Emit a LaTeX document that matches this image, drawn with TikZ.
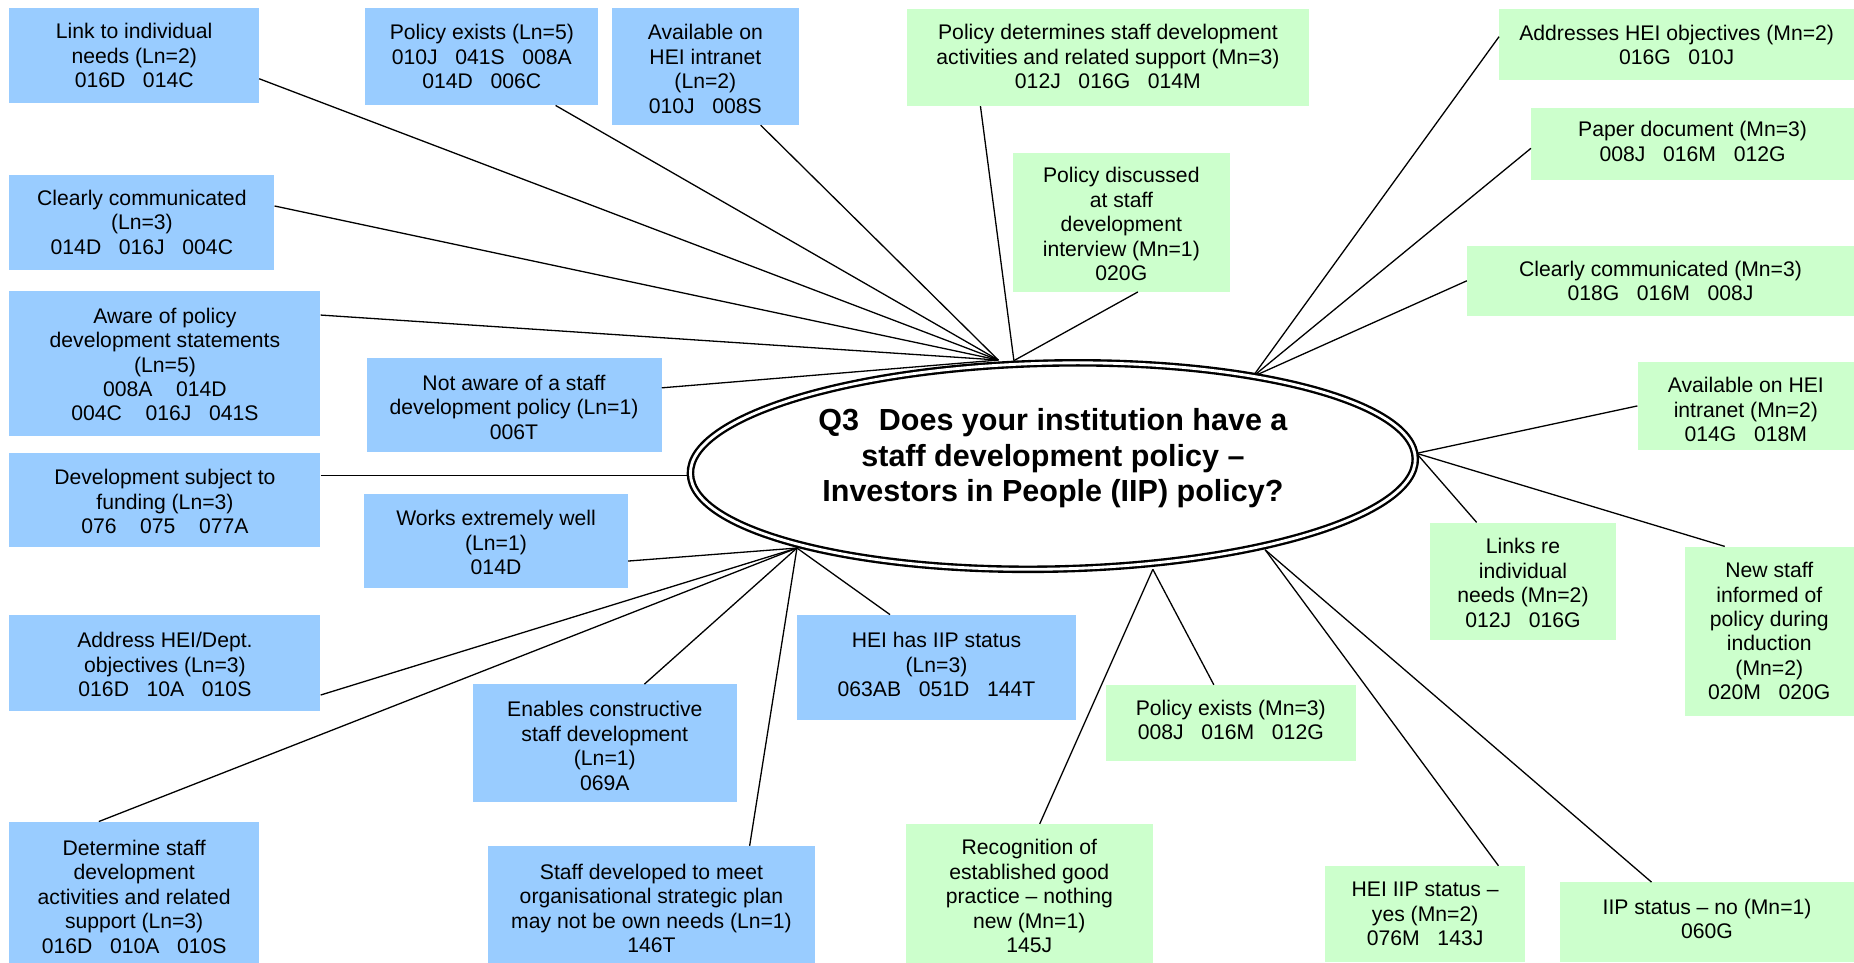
\documentclass[tikz,border=0pt]{standalone}
\usepackage{fontspec}
\setmainfont{Liberation Sans}
\definecolor{lnblue}{HTML}{99CCFF}
\definecolor{mngreen}{HTML}{CCFFCC}
% box from its corners: [text drop], name, style, x1, y1, x2, y2, text
\newcommand\cornerbox[8][0]{%
  \node[#3, minimum width={(#6-#4)*1pt}, minimum height={(#7-#5)*1pt}]
    (#2) at ({(#4+#6)/2},{(#5+#7)/2}) {};
  \node[boxtext] (#2t) at ([shift={(0,#1)}]#2.center) {#8};}
\begin{document}
\begin{tikzpicture}[x=1pt,y=-1pt,
  boxtext/.style={inner sep=0pt, align=center, font=\fontsize{17.9}{20.7}\selectfont},
  lbox/.style={inner sep=0pt, fill=lnblue},
  mbox/.style={inner sep=0pt, fill=mngreen},
  link/.style={draw=black, line width=1.1pt},
  hubring/.style={draw=black, line width=2pt, double=white, double distance=2.4pt},
  title/.style={inner sep=0pt, align=center, font=\fontsize{25.8}{30}\selectfont\bfseries},
]
\useasboundingbox (0,0) rectangle (1568,814);

% Ln answers (blue)
\cornerbox{L1}{lbox}{8}{7}{219}{87}{Link to individual\\needs (Ln=2)\\016D~~~014C}
\cornerbox{L2}{lbox}{309}{7}{506}{89}{Policy exists (Ln=5)\\010J~~~041S~~~008A\\014D~~~006C}
\cornerbox[2]{L3}{lbox}{517.6}{7}{675.5}{105.7}{Available on\\HEI intranet\\(Ln=2)\\010J~~~008S}
\cornerbox{L4}{lbox}{8}{148}{232}{228}{Clearly communicated\\(Ln=3)\\014D~~~016J~~~004C}
\cornerbox[1]{L5}{lbox}{8}{246}{271}{368.5}{Aware of policy\\development statements\\(Ln=5)\\008A~~~~014D\\004C~~~~016J~~~041S}
\cornerbox[1.5]{L6}{lbox}{310}{303}{559.5}{382.6}{Not aware of a staff\\development policy (Ln=1)\\006T}
\cornerbox[1]{L7}{lbox}{8}{383.4}{271}{463}{Development subject to\\funding (Ln=3)\\076~~~~075~~~~077A}
\cornerbox[1]{L8}{lbox}{308}{418}{531}{497.6}{Works extremely well\\(Ln=1)\\014D}
\cornerbox[1.5]{L9}{lbox}{8}{520}{271}{601}{Address HEI/Dept.\\objectives (Ln=3)\\016D~~~10A~~~010S}
\cornerbox[2.5]{L10}{lbox}{400}{578.8}{623}{678}{Enables constructive\\staff development\\(Ln=1)\\069A}
\cornerbox[-2.5]{L11}{lbox}{674}{520}{910}{609}{HEI has IIP status\\(Ln=3)\\063AB~~~051D~~~144T}
\cornerbox[3]{L12}{lbox}{8}{695}{219}{816}{Determine staff\\development\\activities and related\\support (Ln=3)\\016D~~~010A~~~010S}
\cornerbox[2.5]{L13}{lbox}{413}{715.5}{689}{816}{Staff developed to meet\\organisational strategic plan\\may not be own needs (Ln=1)\\146T}

% Mn answers (green)
\cornerbox[-1]{R1}{mbox}{767}{8}{1107}{89.6}{Policy determines staff development\\activities and related support (Mn=3)\\012J~~~016G~~~014M}
\cornerbox[1.5]{R2}{mbox}{856.7}{129.7}{1040}{246.7}{Policy discussed\\at staff\\development\\interview (Mn=1)\\020G}
\cornerbox{R3}{mbox}{1268}{8}{1568}{68}{Addresses HEI objectives (Mn=2)\\016G~~~010J}
\cornerbox[-2]{R4}{mbox}{1295}{91}{1568}{152}{Paper document (Mn=3)\\008J~~~016M~~~012G}
\cornerbox{R5}{mbox}{1240.7}{208}{1568}{267}{Clearly communicated (Mn=3)\\018G~~~016M~~~008J}
\cornerbox[3]{R6}{mbox}{1385}{306}{1568}{380.6}{Available on HEI\\intranet (Mn=2)\\014G~~~018M}
\cornerbox[1.5]{R7}{mbox}{1209.4}{442}{1366.7}{541.3}{Links re\\individual\\needs (Mn=2)\\012J~~~016G}
\cornerbox{R8}{mbox}{1424.7}{462.3}{1568}{605.3}{New staff\\informed of\\policy during\\induction\\(Mn=2)\\020M~~~020G}
\cornerbox[-2.5]{R9}{mbox}{935.2}{579.3}{1146.7}{643.3}{Policy exists (Mn=3)\\008J~~~016M~~~012G}
\cornerbox[1.5]{R10}{mbox}{766}{697}{975}{816}{Recognition of\\established good\\practice – nothing\\new (Mn=1)\\145J}
\cornerbox{R11}{mbox}{1120.6}{732.4}{1290}{814}{HEI IIP status –\\yes (Mn=2)\\076M~~~143J}
\cornerbox[-3]{R12}{mbox}{1319.4}{746.2}{1568}{814}{IIP status – no (Mn=1)\\060G}

% meeting points on the rim of the question
\coordinate (hubNW) at (844.3,304.5);
\coordinate (hubN)  at (857.5,305);
\coordinate (hubW)  at (590,402.3);
\coordinate (hubSW) at (674,463.5);
\coordinate (hubS)  at (975,481.5);
\coordinate (hubSE) at (1070,465);
\coordinate (hubNE) at (1059.4,318.6);
\coordinate (hubE)  at (1198,383.4);

% connectors
\draw[link] ([yshift=-19.6pt]L1.east) -- (hubNW);
\draw[link] ([xshift=62.4pt]L2.south) -- (hubNW);
\draw[link] ([xshift=46.8pt]L3.south) -- (hubNW);
\draw[link] ([yshift=13.8pt]L4.east) -- (hubNW);
\draw[link] ([yshift=40.8pt]L5.east) -- (hubNW);
\draw[link] ([yshift=14.8pt]L6.east) -- (hubNW);
\draw[link] ([yshift=20.9pt]L7.east) -- (hubW);
\draw[link] ([yshift=-16.7pt]L8.east) -- (hubSW);
\draw[link] ([yshift=-27.3pt]L9.east) -- (hubSW);
\draw[link] ([xshift=33.5pt]L10.north) -- (hubSW);
\draw[link] ([xshift=-39.3pt]L11.north) -- (hubSW);
\draw[link] ([xshift=-29.9pt]L12.north) -- (hubSW);
\draw[link] ([xshift=83pt]L13.north) -- (hubSW);

\draw[link] ([xshift=-107.8pt]R1.south) -- (hubN);
\draw[link] ([xshift=14pt]R2.south) -- (hubN);
\draw[link] ([yshift=7pt]R3.west) -- (hubNE);
\draw[link] ([yshift=-3.9pt]R4.west) -- (hubNE);
\draw[link] (R5.west) -- (hubNE);
\draw[link] (R6.west) -- (hubE);
\draw[link] ([xshift=-39.2pt]R7.north) -- (hubE);
\draw[link] ([xshift=-37.7pt]R8.north) -- (hubE);
\draw[link] ([xshift=-14.4pt]R9.north) -- (hubS);
\draw[link] ([xshift=8.8pt]R10.north) -- (hubS);
\draw[link] ([xshift=62pt]R11.north) -- (hubSE);
\draw[link] ([xshift=-47pt]R12.north) -- (hubSE);

% the question
\coordinate (qc) at (890.5,394.2);
\draw[hubring, fill=white, rotate around={1.2:(qc)}] (qc) ellipse [x radius=306.6pt, y radius=87.1pt];
\node[title] (q) at (890.5,387.5) {Q3\hspace{0.65em}Does your institution have a\\staff development policy –\\Investors in People (IIP) policy?};
\end{tikzpicture}
\end{document}
